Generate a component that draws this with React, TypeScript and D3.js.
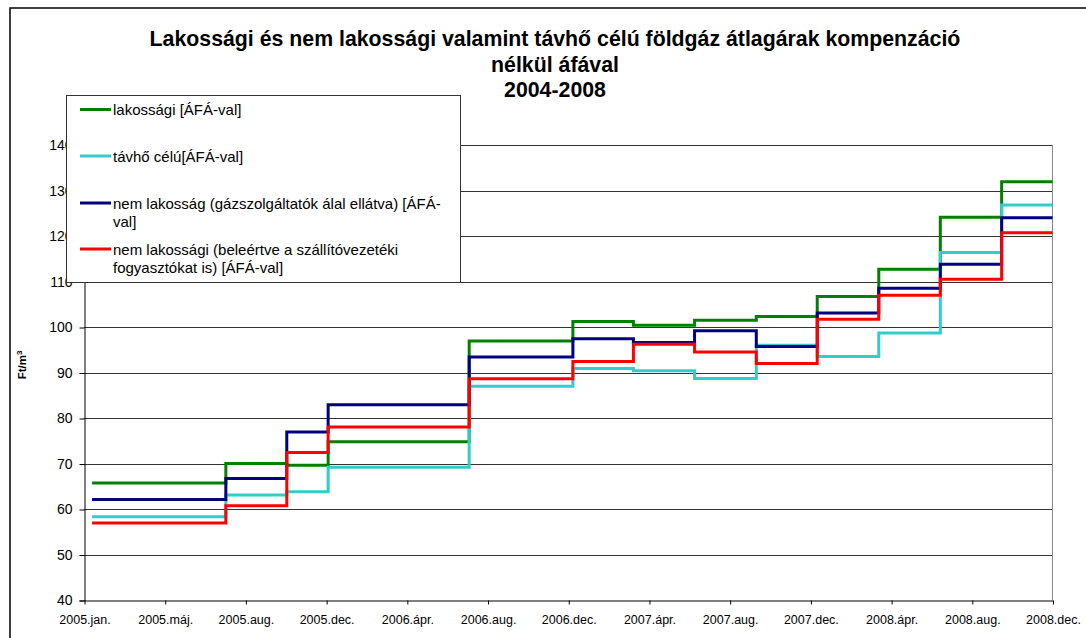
import { useEffect, useRef } from "react";
import * as d3 from "d3";

// x axis labels, one per 4 months
const xLabels = [
  "2005.jan.", "2005.máj.", "2005.aug.", "2005.dec.", "2006.ápr.", "2006.aug.",
  "2006.dec.", "2007.ápr.", "2007.aug.", "2007.dec.", "2008.ápr.", "2008.aug.", "2008.dec.",
];
const yTicks = [40, 50, 60, 70, 80, 90, 100, 110, 120, 130, 140];

// months since 2005.jan where a new price period starts
const periodStart = [0.4, 7.03, 10.05, 12.1, 19.09, 24.23, 27.23, 30.26, 33.32, 36.34, 39.39, 42.44, 45.48];
const periodEnd = 48;

const lakossagi = [65.7, 70.0, 69.6, 74.8, 96.9, 101.2, 100.4, 101.5, 102.3, 106.7, 112.7, 124.1, 131.9];
const tavho = [58.3, 63.1, 63.8, 69.2, 87.0, 90.9, 90.4, 88.7, 96.0, 93.5, 98.7, 116.4, 126.8];
const nemLakossag = [62.1, 66.7, 76.9, 82.9, 93.4, 97.4, 96.6, 99.2, 95.7, 103.1, 108.5, 113.8, 124.0];
const nemLakossagi = [56.9, 60.7, 72.4, 78.0, 88.6, 92.4, 96.2, 94.5, 92.0, 101.7, 107.0, 110.5, 120.7];

const series = [
  { name: ["lakossági [ÁFÁ-val]"], values: lakossagi, color: "#008000" },
  { name: ["távhő célú[ÁFÁ-val]"], values: tavho, color: "#33CCCC" },
  { name: ["nem lakosság (gázszolgáltatók álal ellátva) [ÁFÁ-", "val]"], values: nemLakossag, color: "#000080" },
  { name: ["nem lakossági (beleértve a szállítóvezetéki", "fogyasztókat is) [ÁFÁ-val]"], values: nemLakossagi, color: "#FF0000" },
];

const titleLines = [
  "Lakossági és nem lakossági valamint távhő célú földgáz átlagárak kompenzáció",
  "nélkül áfával",
  "2004-2008",
];

const font = "'Liberation Sans', Arial, sans-serif";

export default function App() {
  const svgRef = useRef<SVGSVGElement>(null);
  const width = 1086, height = 638;
  const plot = { left: 84, right: 1052.5, top: 145, bottom: 600 };

  useEffect(() => {
    const svg = d3.select(svgRef.current);
    svg.selectAll("*").remove();

    // outer frame
    svg.append("rect")
      .attr("x", 10).attr("y", 8)
      .attr("width", width + 20).attr("height", height + 20)
      .attr("fill", "white").attr("stroke", "#000").attr("stroke-width", 1.5);

    const x = d3.scaleLinear().domain([0, 48]).range([plot.left, plot.right]);
    const y = d3.scaleLinear().domain([40, 140]).range([plot.bottom, plot.top]);

    // title
    svg.append("g").selectAll("text")
      .data(titleLines)
      .join("text")
      .attr("x", 555)
      .attr("y", (d, i) => 46 + i * 25.5)
      .attr("text-anchor", "middle")
      .attr("font-family", font)
      .attr("font-weight", "bold")
      .attr("font-size", 21.3)
      .text(d => d);

    // gridlines
    svg.append("g").selectAll("line")
      .data(yTicks.filter(d => d > 40))
      .join("line")
      .attr("x1", plot.left).attr("x2", plot.right)
      .attr("y1", d => Math.round(y(d)) + 0.5).attr("y2", d => Math.round(y(d)) + 0.5)
      .attr("stroke", "#333").attr("stroke-width", 1);

    // right border of plot area
    svg.append("line")
      .attr("x1", plot.right).attr("x2", plot.right)
      .attr("y1", plot.top).attr("y2", plot.bottom)
      .attr("stroke", "#888");

    // y axis
    const yAxis = d3.axisLeft(y).tickValues(yTicks).tickSize(5).tickPadding(7).tickFormat(d3.format("d"));
    const gy = svg.append("g").attr("transform", `translate(${plot.left + 0.5},0.5)`).call(yAxis);
    gy.select(".domain").attr("stroke", "#000");
    gy.selectAll("text").attr("font-family", font).attr("font-size", 14).attr("fill", "#000");

    // x axis
    const xAxis = d3.axisBottom(x)
      .tickValues(xLabels.map((_, i) => i * 4))
      .tickSize(4).tickSizeOuter(0).tickPadding(11)
      .tickFormat((d, i) => xLabels[i]);
    const gx = svg.append("g").attr("transform", `translate(0.5,${plot.bottom + 0.5})`).call(xAxis);
    gx.select(".domain").attr("stroke", "#000");
    gx.selectAll("text").attr("font-family", font).attr("font-size", 12.5).attr("fill", "#000");

    // y axis title
    const yt = svg.append("text")
      .attr("transform", "translate(26,365) rotate(-90)")
      .attr("text-anchor", "middle")
      .attr("font-family", font)
      .attr("font-weight", "bold")
      .attr("font-size", 11.5);
    yt.append("tspan").text("Ft/m");
    yt.append("tspan").attr("font-size", 8).attr("dy", -4).text("3");

    // step lines
    const line = d3.line<[number, number]>()
      .x(d => x(d[0]))
      .y(d => y(d[1]))
      .curve(d3.curveStepAfter);
    series.forEach(s => {
      const pts: [number, number][] = periodStart.map((m, i) => [m, s.values[i]]);
      pts.push([periodEnd, s.values[s.values.length - 1]]);
      svg.append("path")
        .datum(pts)
        .attr("fill", "none")
        .attr("stroke", s.color)
        .attr("stroke-width", 3)
        .attr("d", line);
    });

    // legend
    const lg = svg.append("g");
    lg.append("rect")
      .attr("x", 66.5).attr("y", 95.5)
      .attr("width", 394).attr("height", 187)
      .attr("fill", "white").attr("stroke", "#333").attr("stroke-width", 1);
    const rowY = [109.5, 156, 203, 249];
    series.forEach((s, i) => {
      lg.append("line")
        .attr("x1", 80).attr("x2", 111)
        .attr("y1", rowY[i]).attr("y2", rowY[i])
        .attr("stroke", s.color).attr("stroke-width", 3);
      s.name.forEach((t, j) => {
        lg.append("text")
          .attr("x", 113)
          .attr("y", rowY[i] + 5.5 + j * 18.3)
          .attr("font-family", font)
          .attr("font-size", 15)
          .text(t);
      });
    });
  }, []);

  return (
    <svg
      ref={svgRef}
      width={width}
      height={height}
      style={{ position: "absolute", left: 0, top: 0, background: "white" }}
    />
  );
}
